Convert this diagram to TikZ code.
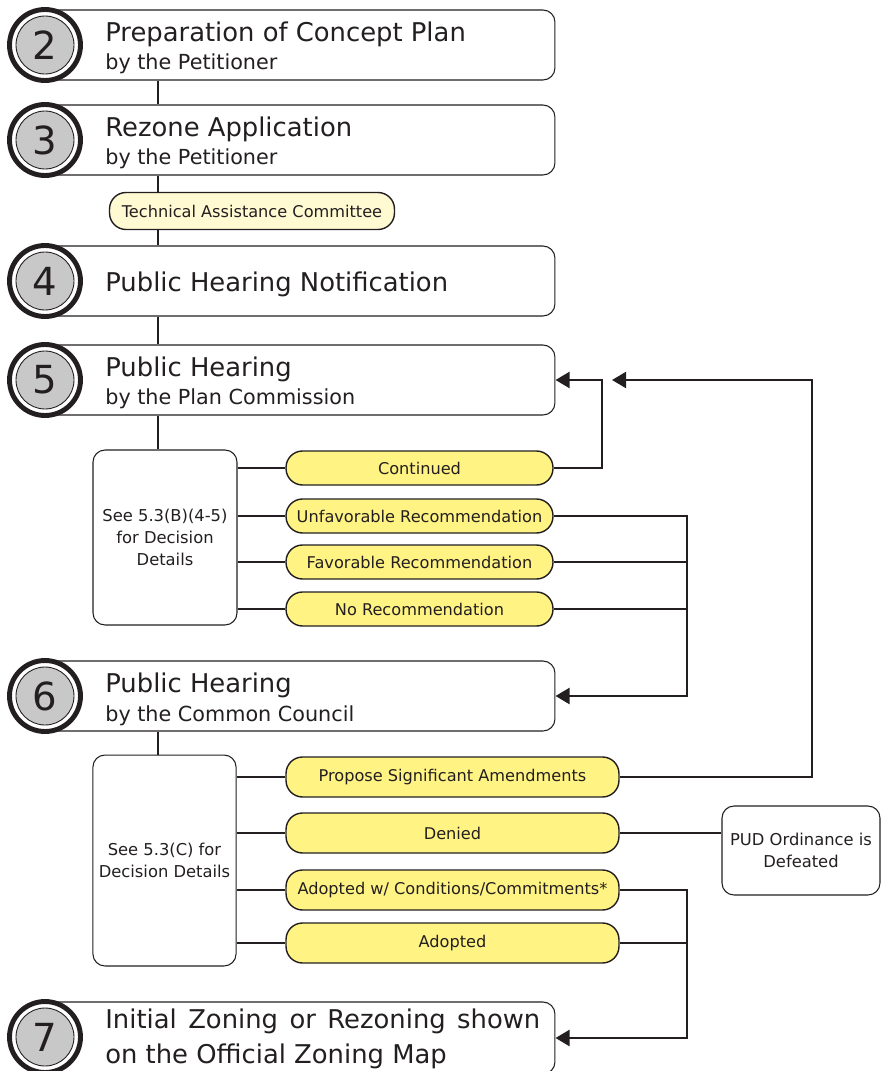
\documentclass[tikz,border=0pt]{standalone}
\usepackage{fontspec}
\setmainfont{DejaVu Sans}
\usepackage{tikz}
\usetikzlibrary{positioning}
\usetikzlibrary{calc}
\usetikzlibrary{arrows.meta}
\usepackage{xcolor}

\definecolor{pillyellow}{HTML}{FFF384}
\definecolor{paleyellow}{HTML}{FFFAD2}
\definecolor{numgray}{HTML}{C8C8C8}
\definecolor{ink}{HTML}{231F20}

\tikzset{
  stepbox/.style = {draw=ink, line width=0.6pt, fill=white, rounded corners=0.24cm,
                    minimum width=10.3cm, minimum height=1.4cm},
  ring/.style    = {circle, draw=ink, line width=2.8pt, fill=white, minimum size=1.42cm},
  numdisc/.style = {circle, draw=ink, line width=0.5pt, fill=numgray, minimum size=1.16cm,
                    inner sep=0pt, font=\fontsize{22}{22}\selectfont, text=ink},
  title/.style   = {anchor=west, align=left, inner sep=0pt, text=ink},
  pill/.style    = {draw=ink, line width=0.8pt, fill=pillyellow, rounded corners=0.33cm,
                    minimum height=0.68cm, text=ink, font=\fontsize{9.2}{11}\selectfont},
  decide/.style  = {draw=ink, line width=0.6pt, fill=white, rounded corners=0.24cm,
                    align=center, text=ink, font=\fontsize{9.3}{12.5}\selectfont},
  link/.style    = {draw=ink, line width=1.6pt},
  arr/.style     = {link, -{Triangle[length=8pt,width=9pt]}}
}
\newcommand{\headfont}{\fontsize{14.7}{17.5}\selectfont}
\newcommand{\subfont}{\fontsize{11.8}{14}\selectfont}

\begin{document}
\begin{tikzpicture}[x=0.02cm, y=-0.02cm]
  \useasboundingbox (0,0) rectangle (882,1071);
  \coordinate (spine) at (158,0);

  % step boxes
  \node[stepbox] (s2) at (297.5,45) {};
  \node[stepbox] (s3) at (297.5,140) {};
  \node[stepbox] (s4) at (297.5,281) {};
  \node[stepbox] (s5) at (297.5,380) {};
  \node[stepbox] (s6) at (297.5,696) {};
  \node[stepbox, minimum height=1.44cm] (s7) at (297.5,1038) {};

  \node[title] (t2) at (105,48) {{\headfont Preparation of Concept Plan}\\[3.3pt]{\subfont by the Petitioner}};
  \node[title] (t3) at (105,143) {{\headfont Rezone Application}\\[3.3pt]{\subfont by the Petitioner}};
  \node[title] (t4) at (105,284) {\headfont Public Hearing Notification};
  \node[title] (t5) at (105,383) {{\headfont Public Hearing}\\[3.3pt]{\subfont by the Plan Commission}};
  \node[title] (t6) at (105,699) {{\headfont Public Hearing}\\[3.3pt]{\subfont by the Common Council}};
  \node[title] (t7) at (105,1039) {{\headfont\makebox[8.7cm][s]{Initial Zoning or Rezoning shown}}\\[5pt]{\headfont on the Official Zoning Map}};

  % numbers
  \foreach \n/\y in {2/45, 3/140, 4/281, 5/380, 6/696, 7/1037} {
    \node[ring] (r\n) at (45,\y) {};
    \node[numdisc] (n\n) at (r\n) {\n};
  }

  % committee
  \node[pill, fill=paleyellow, minimum width=5.7cm, minimum height=0.74cm] (tac) at (252,211)
    {Technical Assistance Committee};

  % plan commission decisions
  \node[decide, minimum width=2.88cm, minimum height=3.5cm] (d1) at (165,537.5)
    {See 5.3(B)(4-5)\\for Decision\\Details};
  \node[pill, minimum width=5.34cm] (p1) at (419.5,468) {Continued};
  \node[pill, minimum width=5.34cm] (p2) at (419.5,516) {Unfavorable Recommendation};
  \node[pill, minimum width=5.34cm] (p3) at (419.5,562) {Favorable Recommendation};
  \node[pill, minimum width=5.34cm] (p4) at (419.5,609) {No Recommendation};

  % common council decisions
  \node[decide, minimum width=2.86cm, minimum height=4.22cm] (d2) at (164.5,860.5)
    {See 5.3(C) for\\Decision Details};
  \node[pill, minimum width=6.66cm, minimum height=0.8cm] (q1) at (452.5,777) {Propose Significant Amendments};
  \node[pill, minimum width=6.66cm, minimum height=0.8cm] (q2) at (452.5,833) {Denied};
  \node[pill, minimum width=6.66cm, minimum height=0.8cm] (q3) at (452.5,890) {Adopted w/ Conditions/Commitments*};
  \node[pill, minimum width=6.66cm, minimum height=0.8cm] (q4) at (452.5,943) {Adopted};
  \node[decide, minimum width=3.16cm, minimum height=1.78cm] (pud) at (801,850.5)
    {PUD Ordinance is\\Defeated};

  % spine
  \draw[link] (s2.south -| spine) -- (s3.north -| spine);
  \draw[link] (s3.south -| spine) -- (tac.north -| spine);
  \draw[link] (tac.south -| spine) -- (s4.north -| spine);
  \draw[link] (s4.south -| spine) -- (s5.north -| spine);
  \draw[link] (s5.south -| spine) -- (d1.north -| spine);
  \draw[link] (s6.south -| spine) -- (d2.north -| spine);

  \foreach \p in {p1,p2,p3,p4} \draw[link] (d1.east |- \p.west) -- (\p.west);
  \foreach \q in {q1,q2,q3,q4} \draw[link] (d2.east |- \q.west) -- (\q.west);

  % returns
  \coordinate (c1) at (602,380);
  \coordinate (c2) at (812,380);
  \coordinate (c3) at (612,380);
  \coordinate (c4) at (687,696);
  \coordinate (c5) at (687,1038);
  \draw[arr] (p1.east) -| (c1) -- (s5.east);
  \draw[arr] (q1.east) -| (c2) -- (c3);
  \draw[arr] (p2.east) -| (c4) -- (s6.east);
  \draw[link] (p3.east) -- (p3.east -| c4);
  \draw[link] (p4.east) -- (p4.east -| c4);
  \draw[link] (q2.east) -- (q2.east -| pud.west);
  \draw[arr] (q3.east) -| (c5) -- (s7.east);
  \draw[link] (q4.east) -- (q4.east -| c5);
\end{tikzpicture}
\end{document}
